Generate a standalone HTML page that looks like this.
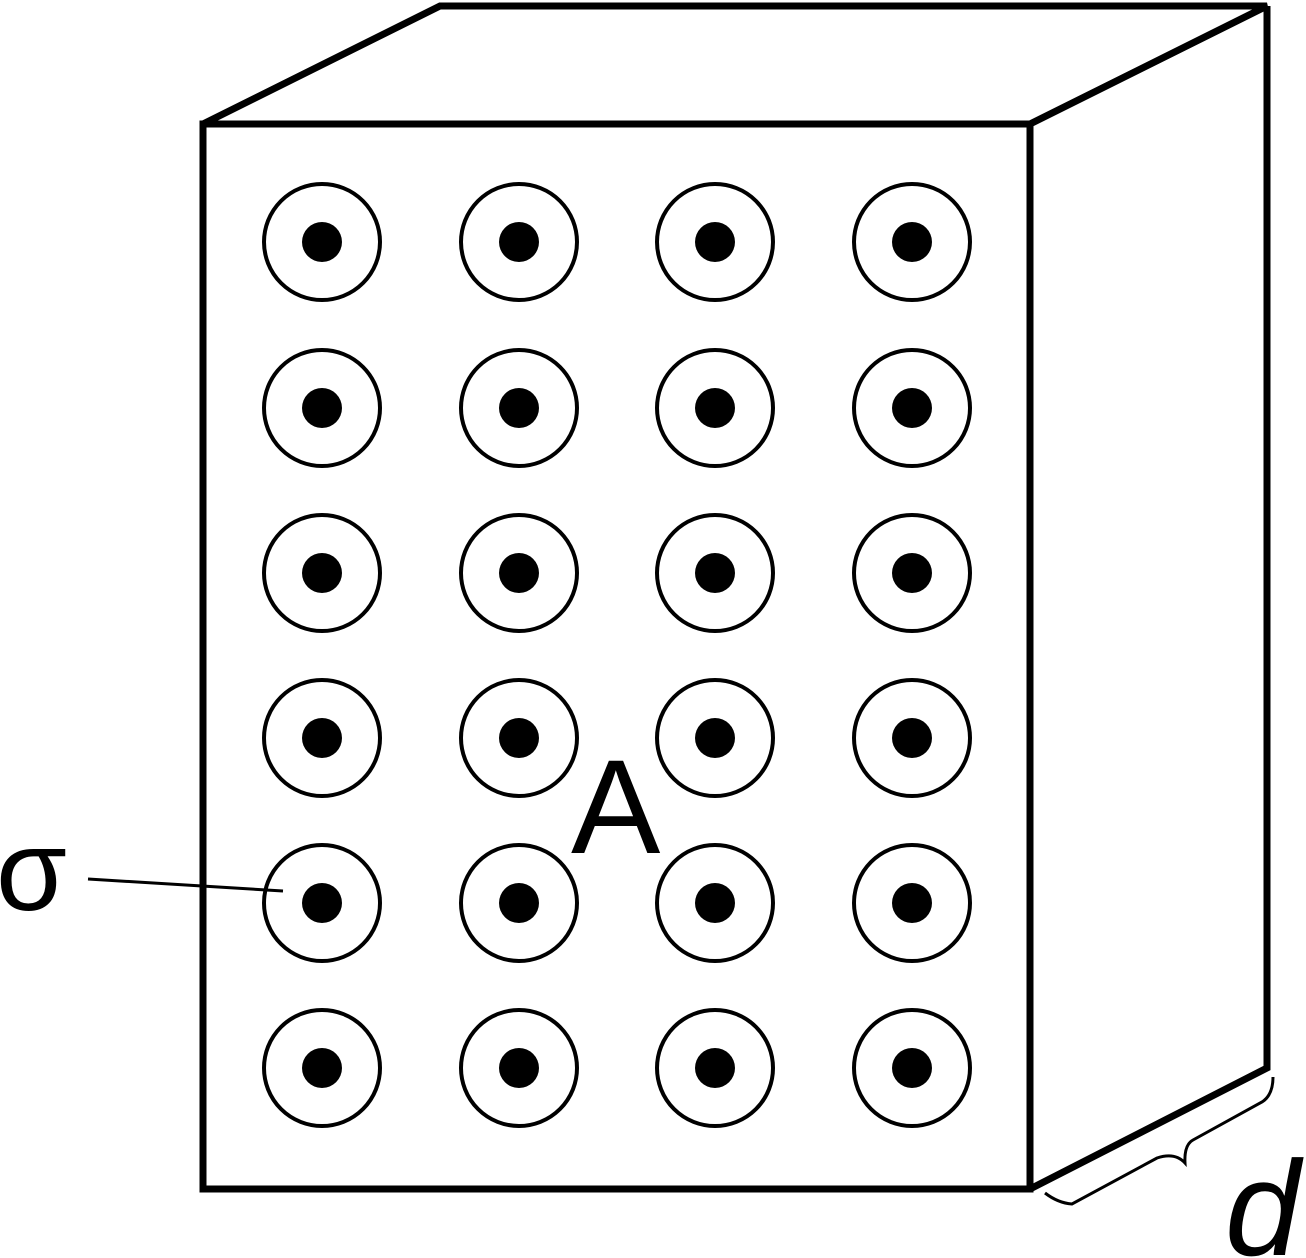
<!DOCTYPE html>
<html><head><meta charset="utf-8"><style>
html,body{margin:0;padding:0;background:#fff;}
svg{display:block;}
</style></head><body>
<svg id="fig" width="1306" height="1258" viewBox="0 0 1306 1258" xmlns="http://www.w3.org/2000/svg">
  <g fill="none" stroke="#000" stroke-width="7" stroke-linejoin="miter">
    <polygon points="203,124 1030,124 1030,1189 203,1189"/>
    <polyline points="203,124 440,6 1267,6 1030,124"/>
    <polyline points="1267,6 1267,1068 1030,1189"/>
  </g>
  <g id="grid"></g>
  <line x1="88" y1="879" x2="283" y2="891" stroke="#000" stroke-width="3"/>
  <path d="M1045,1193 Q1058,1203 1072,1204 L1157,1158 Q1175,1152 1185,1163 Q1184,1145 1193,1140 L1262,1102 Q1273,1095 1273,1077" fill="none" stroke="#000" stroke-width="3"/>
  <text x="-4" y="910" font-family="Liberation Sans, sans-serif" font-size="115">σ</text>
  <text x="571" y="853" font-family="Liberation Sans, sans-serif" font-size="134">A</text>
  <text x="1225" y="1255" font-family="Liberation Sans, sans-serif" font-style="italic" font-size="135">d</text>
</svg>
<script>
const cols = [322, 519, 715, 912];
const rows = [242, 408, 573, 738, 903, 1068];
const g = document.getElementById('grid');
const NS = 'http://www.w3.org/2000/svg';
rows.forEach((y, ri) => cols.forEach((x, ci) => {
  const s = document.createElementNS(NS, 'g');
  
  
  const c = document.createElementNS(NS, 'circle');
  c.setAttribute('cx', x); c.setAttribute('cy', y); c.setAttribute('r', 58);
  c.setAttribute('fill', 'none'); c.setAttribute('stroke', '#000'); c.setAttribute('stroke-width', '4');
  
  
  const d = document.createElementNS(NS, 'circle');
  d.setAttribute('cx', x); d.setAttribute('cy', y); d.setAttribute('r', 20);
  d.setAttribute('fill', '#000');
  
  
  s.appendChild(c); s.appendChild(d); g.appendChild(s);
}));
</script>
</body></html>
